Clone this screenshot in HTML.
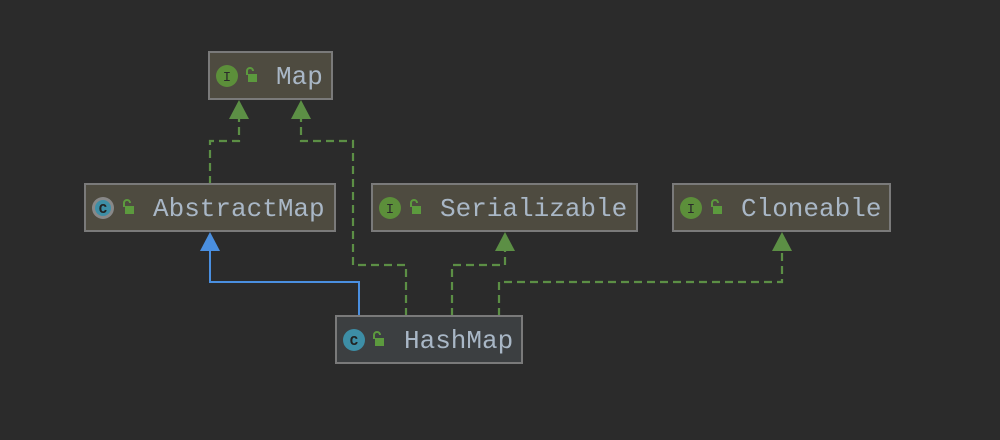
<!DOCTYPE html>
<html><head><meta charset="utf-8"><style>
html,body{margin:0;padding:0;background:#2b2b2b;}
svg{display:block}
text{font-family:"Liberation Mono",monospace;}
</style></head><body>
<svg width="1000" height="440" viewBox="0 0 1000 440" xmlns="http://www.w3.org/2000/svg">
<rect width="1000" height="440" fill="#2b2b2b"/>
<g fill="none" stroke="#5c8f45" stroke-width="2.2" stroke-dasharray="8,5">
<path d="M210 184 V141 H239 V118"/>
<path d="M406 316 V265 H353 V141 H301 V118"/>
<path d="M452 316 V265 H505 V250"/>
<path d="M499 316 V282 H782 V250"/>
</g>
<path d="M359 316 V282 H210 V250" fill="none" stroke="#4a8fe0" stroke-width="2"/>
<g fill="#5c8f45">
<polygon points="239,100 229,119 249,119"/>
<polygon points="301,100 291,119 311,119"/>
<polygon points="505,232 495,251 515,251"/>
<polygon points="782,232 772,251 792,251"/>
</g>
<polygon points="210,232 200,251 220,251" fill="#4a8fe0"/>
<g stroke="#7a7a7a" stroke-width="2">
<rect x="209" y="52" width="123" height="47" fill="#4e4b40"/>
<rect x="85" y="184" width="250" height="47" fill="#4e4b40"/>
<rect x="372" y="184" width="265" height="47" fill="#4e4b40"/>
<rect x="673" y="184" width="217" height="47" fill="#4e4b40"/>
<rect x="336" y="316" width="186" height="47" fill="#3c3f41"/>
</g>
<g>
<circle cx="227" cy="76" r="11" fill="#5c8f3a"/><text x="227" y="81" font-size="14" fill="#2b2b2b" text-anchor="middle">I</text>
<circle cx="390" cy="208" r="11" fill="#5c8f3a"/><text x="390" y="213" font-size="14" fill="#2b2b2b" text-anchor="middle">I</text>
<circle cx="691" cy="208" r="11" fill="#5c8f3a"/><text x="691" y="213" font-size="14" fill="#2b2b2b" text-anchor="middle">I</text>
<circle cx="103" cy="208" r="11" fill="#888"/><circle cx="103" cy="208" r="8" fill="#3d8ea6"/><text x="103" y="213" font-size="14" fill="#222" text-anchor="middle" font-weight="bold">C</text>
<circle cx="354" cy="340" r="11" fill="#3d8ea6"/><text x="354" y="345" font-size="14" fill="#222" text-anchor="middle" font-weight="bold">C</text>
</g>
<g fill="#5c9a3e">
<rect x="248" y="74" width="9" height="8"/><rect x="375" y="338" width="9" height="8"/>
<rect x="125" y="206" width="9" height="8"/><rect x="412" y="206" width="9" height="8"/><rect x="713" y="206" width="9" height="8"/>
</g>
<g fill="none" stroke="#5c9a3e" stroke-width="2">
<path d="M247 75 V71 a3 3 0 0 1 6 0"/>
<path d="M374 339 V335 a3 3 0 0 1 6 0"/>
<path d="M124 207 V203 a3 3 0 0 1 6 0"/>
<path d="M411 207 V203 a3 3 0 0 1 6 0"/>
<path d="M712 207 V203 a3 3 0 0 1 6 0"/>
</g>
<g font-size="26" fill="#a9b7c6">
<text x="276" y="84">Map</text>
<text x="153" y="216">AbstractMap</text>
<text x="440" y="216">Serializable</text>
<text x="741" y="216">Cloneable</text>
<text x="404" y="348">HashMap</text>
</g>
</svg>
</body></html>
